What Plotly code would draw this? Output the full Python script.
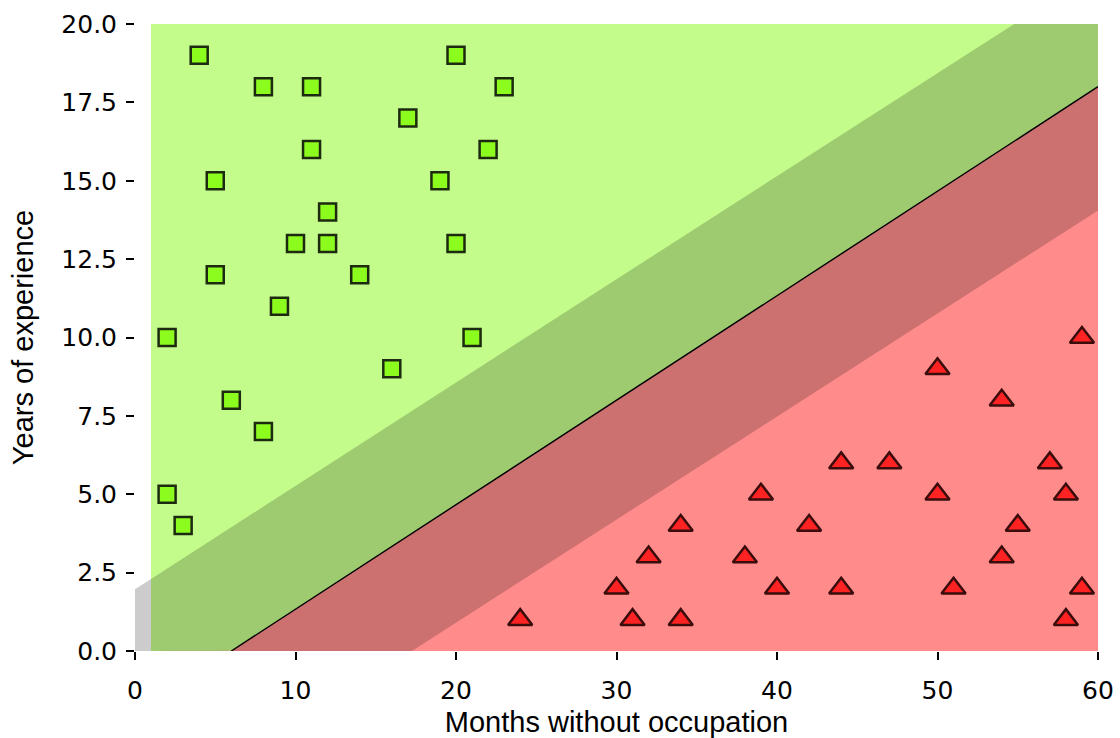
import numpy as np
import plotly.graph_objects as go

# ---- data ----
good_x = [4, 8, 11, 20, 23, 17, 11, 22, 5, 19, 12, 10, 12, 20, 5, 14, 9, 2, 21, 16, 6, 8, 2, 3]
good_y = [19, 18, 18, 19, 18, 17, 16, 16, 15, 15, 14, 13, 13, 13, 12, 12, 11, 10, 10, 9, 8, 7, 5, 4]

bad_x = [24, 30, 31, 32, 34, 34, 38, 39, 40, 42, 44, 44, 47, 50, 50, 51, 54, 54, 55, 57, 58, 58, 59, 59]
bad_y = [1, 2, 1, 3, 4, 1, 3, 5, 2, 4, 6, 2, 6, 9, 5, 2, 8, 3, 4, 6, 5, 1, 2, 10]

# decision lines y = slope * x + intercept
boundary_slope, boundary_intercept = 1 / 3, -2.0
upper_slope, upper_intercept = 0.3296, 1.97
lower_slope, lower_intercept = 0.3287, -5.67

x_ticks = [0, 10, 20, 30, 40, 50, 60]
y_ticks = [0.0, 2.5, 5.0, 7.5, 10.0, 12.5, 15.0, 17.5, 20.0]
X_MIN, X_MAX, Y_MIN, Y_MAX = 0, 60, 0, 20
GRID_X0 = 1  # start of the shaded decision grid

fig = go.Figure()


def region_above(a, b, x0, x1, color):
    xs = np.linspace(x0, x1, 600)
    ys = np.clip(a * xs + b, Y_MIN, Y_MAX)
    px = list(xs) + [x1, x0]
    py = list(ys) + [Y_MAX, Y_MAX]
    fig.add_trace(go.Scatter(x=px, y=py, fill="toself", fillcolor=color, mode="lines",
                             line=dict(width=0, color=color), hoverinfo="skip", showlegend=False))


# gray strip left of grid, below upper margin line
xs = np.linspace(X_MIN, GRID_X0, 50)
ys = np.clip(upper_slope * xs + upper_intercept, Y_MIN, Y_MAX)
fig.add_trace(go.Scatter(x=list(xs) + [GRID_X0, X_MIN], y=list(ys) + [Y_MIN, Y_MIN],
                         fill="toself", fillcolor="#cccccc", mode="lines",
                         line=dict(width=0, color="#cccccc"), hoverinfo="skip", showlegend=False))

region_above(0, -100, GRID_X0, X_MAX, "#ff8b8b")                       # light red
region_above(lower_slope, lower_intercept, GRID_X0, X_MAX, "#cc7070")  # dark red
region_above(boundary_slope, boundary_intercept, GRID_X0, X_MAX, "#9eca70")  # dark green
region_above(upper_slope, upper_intercept, GRID_X0, X_MAX, "#c4fc8c")  # light green

# decision boundary line
x_b0 = (Y_MIN - boundary_intercept) / boundary_slope
bx = np.linspace(x_b0, X_MAX, 300)
by = boundary_slope * bx + boundary_intercept
fig.add_trace(go.Scatter(x=bx, y=by, mode="lines", line=dict(color="black", width=1.4),
                         hoverinfo="skip", showlegend=False))

fig.add_trace(go.Scatter(x=good_x, y=good_y, mode="markers", showlegend=False,
                         marker=dict(symbol="square", size=17, color="#8cfc1e",
                                     line=dict(color="#1c2a10", width=2.5))))
fig.add_trace(go.Scatter(x=bad_x, y=bad_y, mode="markers", showlegend=False,
                         marker=dict(symbol="triangle-up", size=21, color="#ff2222",
                                     line=dict(color="#3a0c0c", width=2.5))))

tick_font = dict(family="DejaVu Sans", size=25, color="black")
title_font = dict(family="Liberation Sans", size=29, color="black")

fig.update_layout(
    width=1120, height=738, autosize=False,
    margin=dict(l=135, r=22, t=24, b=87, autoexpand=False),
    plot_bgcolor="white", paper_bgcolor="white",
    xaxis=dict(range=[X_MIN, X_MAX], tickvals=x_ticks, ticks="outside", ticklen=8, tickwidth=1.6,
               tickcolor="black", showgrid=False, zeroline=False, showline=False,
               ticklabelstandoff=9, automargin=False,
               tickfont=tick_font, title=dict(text="Months without occupation", font=title_font, standoff=8)),
    yaxis=dict(range=[Y_MIN, Y_MAX], tickvals=y_ticks, ticktext=[f"{v:.1f}" for v in y_ticks],
               ticks="outside", ticklen=8, tickwidth=1.6, tickcolor="black",
               showgrid=False, zeroline=False, showline=False,
               ticklabelstandoff=4, automargin=False,
               tickfont=tick_font, title=dict(text="Years of experience", font=title_font, standoff=19)),
)

fig.write_html("out.html")
